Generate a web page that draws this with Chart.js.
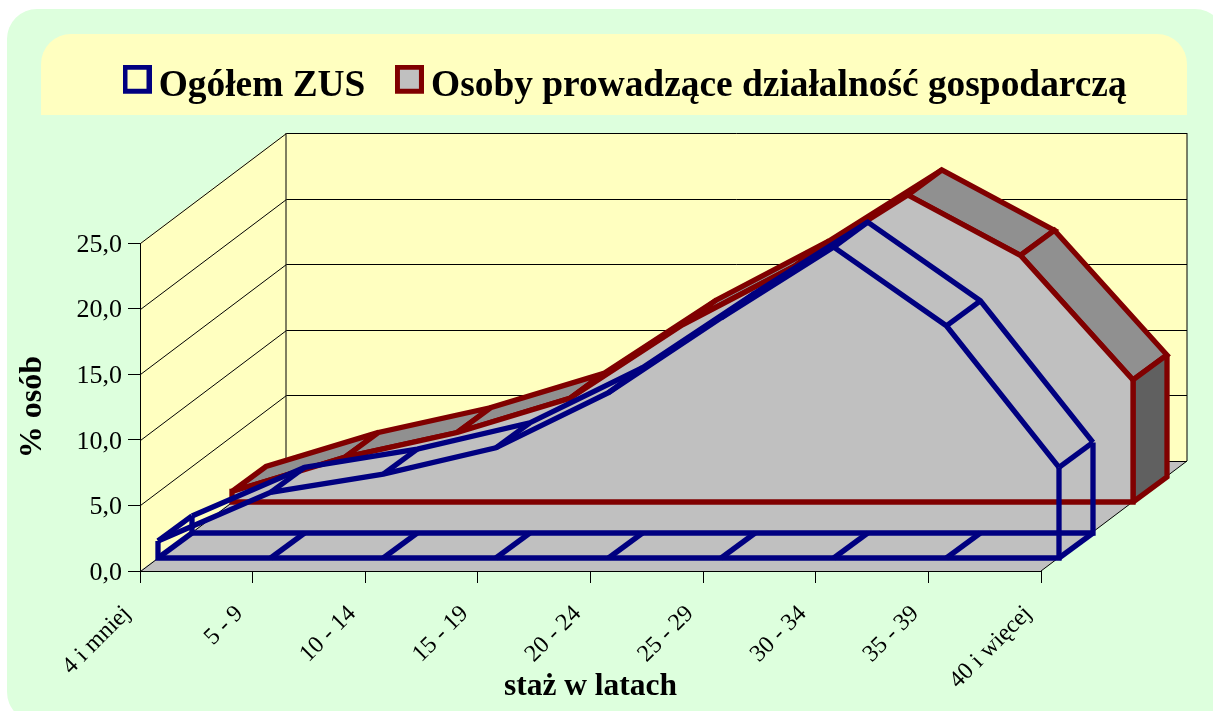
<!DOCTYPE html>
<html lang="pl"><head><meta charset="utf-8"><title>Staż</title>
<style>html,body{margin:0;padding:0;background:#fff}canvas{display:block}</style>
<script src="https://cdn.jsdelivr.net/npm/chart.js@4"></script></head>
<body><canvas id="c" width="1213" height="711"></canvas>
<script>
const categories = ['4 i mniej','5 - 9','10 - 14','15 - 19','20 - 24','25 - 29','30 - 34','35 - 39','40 i więcej'];
const ogolemZus = [1.3,5.0,6.4,8.4,12.6,18.3,23.7,17.7,6.9];
const prowadzacy = [0.8,3.4,5.3,7.9,13.5,18.0,23.4,18.8,9.3];
const seriesNames = ['Ogółem ZUS','Osoby prowadzące działalność gospodarczą'];
const FONT = '"Liberation Serif","Times New Roman",serif';
const NAVY='#000080', MAROON='#800000', GRAY='#c0c0c0', WALL='#ffffc0', PANEL='#ddffdd';
const DEPTH={x:146,y:-110};
const SLICE={x:34,y:-25};
const SLOTS=[{x:18,y:-13},{x:92,y:-69}];
const LW=5.3;

function legendIcon(stroke,fill){
  const k=document.createElement('canvas');k.width=29;k.height=44;
  const g=k.getContext('2d');
  if(fill){g.fillStyle=fill;g.fillRect(2,2,25,25);}
  g.strokeStyle=stroke;g.lineWidth=5;g.strokeRect(2.5,2.5,24,24);
  return k;
}
function rrect(ctx,x,y,w,h,r){ctx.beginPath();ctx.roundRect(x,y,w,h,r);}
function poly(ctx,pts){ctx.beginPath();pts.forEach((p,i)=>i?ctx.lineTo(p.x,p.y):ctx.moveTo(p.x,p.y));}
const plus=(p,d)=>({x:p.x+d.x,y:p.y+d.y});

const scene3d={
  id:'scene3d',
  beforeInit(chart){
    const L=chart.legend,fit=L.fit;
    L.fit=function(){this.maxWidth=chart.width;fit.call(this);this.height=243;};
  },
  afterLayout(chart){
    const L=chart.legend;L.left=93;L.right=1213;L.top=27;
  },
  beforeDraw(chart){
    const c=chart.ctx,{x:X,y:Y}=chart.scales,A=chart.chartArea;
    c.save();
    c.fillStyle=PANEL;rrect(c,7,9,1218,713,30);c.fill();
    c.fillStyle=WALL;rrect(c,41,34,1146,81,[30,30,0,0]);c.fill();
    const bl={x:A.left,y:A.bottom},br={x:A.right,y:A.bottom},tl={x:A.left,y:A.top},tr={x:A.right,y:A.top};
    c.fillStyle=WALL;
    poly(c,[bl,tl,plus(tl,DEPTH),plus(bl,DEPTH)]);c.closePath();c.fill();
    poly(c,[plus(bl,DEPTH),plus(tl,DEPTH),plus(tr,DEPTH),plus(br,DEPTH)]);c.closePath();c.fill();
    c.fillStyle=GRAY;
    poly(c,[bl,br,plus(br,DEPTH),plus(bl,DEPTH)]);c.closePath();c.fill();
    c.strokeStyle='#000';c.lineWidth=1;
    Y.ticks.forEach(t=>{
      const py=Math.round(Y.getPixelForValue(t.value))+.5;
      const a={x:A.left+.5,y:py},b=plus(a,DEPTH),e={x:A.right+DEPTH.x,y:py+DEPTH.y};
      poly(c,[a,b,e]);c.stroke();
    });
    poly(c,[plus(tl,DEPTH),plus(bl,DEPTH)]);c.stroke();
    poly(c,[plus(tr,DEPTH),plus(br,DEPTH),br]);c.stroke();
    c.restore();
  },
  beforeDatasetDraw(chart,{index,meta}){
    const c=chart.ctx,ds=chart.data.datasets[index];
    const base=chart.scales.y.getPixelForValue(0);
    const slot=SLOTS[index];
    const pts=meta.data.map(p=>({x:p.x,y:p.y}));
    const n=pts.length,bottom=pts.map(p=>({x:p.x,y:base}));
    c.save();
    c.translate(slot.x,slot.y);
    c.strokeStyle=ds.borderColor;c.lineWidth=LW;c.lineJoin='miter';c.miterLimit=2;c.lineCap='square';
    const solid=ds.backgroundColor!=='transparent';
    const front=[bottom[0],...pts,bottom[n-1]];
    if(solid){
      for(let i=0;i<n-1;i++){
        c.fillStyle='#909090';
        poly(c,[pts[i],pts[i+1],plus(pts[i+1],SLICE),plus(pts[i],SLICE)]);c.closePath();c.fill();c.stroke();
      }
      c.fillStyle='#606060';
      poly(c,[pts[n-1],plus(pts[n-1],SLICE),plus(bottom[n-1],SLICE),bottom[n-1]]);c.closePath();c.fill();c.stroke();
      c.fillStyle=ds.backgroundColor;
      poly(c,front);c.closePath();c.fill();
    }else{
      c.lineCap='butt';
      poly(c,pts.map(p=>plus(p,SLICE)));c.stroke();
      poly(c,[plus(pts[0],SLICE),plus(bottom[0],SLICE),plus(bottom[n-1],SLICE),plus(pts[n-1],SLICE)]);c.stroke();
      for(let i=0;i<n;i++){
        poly(c,[pts[i],plus(pts[i],SLICE)]);c.stroke();
        poly(c,[bottom[i],plus(bottom[i],SLICE)]);c.stroke();
      }
    }
    poly(c,[pts[0],bottom[0],bottom[n-1],pts[n-1]]);c.stroke();
    c.lineCap='butt';
    // the library strokes the series' own line inside this translation
  },
  afterDatasetDraw(chart){chart.ctx.restore();}
};

new Chart(document.getElementById('c'),{
  type:'line',
  data:{labels:categories,datasets:[
    {label:seriesNames[0],data:ogolemZus,borderColor:NAVY,backgroundColor:'transparent',borderWidth:LW,pointRadius:0,tension:0,fill:false,clip:false,pointStyle:legendIcon(NAVY,null)},
    {label:seriesNames[1],data:prowadzacy,borderColor:MAROON,backgroundColor:GRAY,borderWidth:LW,pointRadius:0,tension:0,fill:false,clip:false,pointStyle:legendIcon(MAROON,GRAY)}
  ]},
  plugins:[scene3d],
  options:{
    responsive:false,animation:false,
    layout:{padding:{left:0,right:172,top:0,bottom:0}},
    plugins:{
      tooltip:{enabled:false},
      legend:{display:true,position:'top',align:'start',labels:{usePointStyle:true,pointStyleWidth:6,padding:41,color:'#000',font:{family:FONT,size:37.4,weight:'bold'}}}
    },
    scales:{
      x:{type:'category',offset:false,
        afterFit(s){s.height=140;},
        grid:{drawOnChartArea:false,drawTicks:true,tickLength:12,color:'#000'},
        border:{color:'#000',width:1},
        ticks:{autoSkip:false,minRotation:45,maxRotation:45,padding:17,labelOffset:-13,color:'#000',font:{family:FONT,size:24}},
        title:{display:true,text:'staż w latach',color:'#000',font:{family:FONT,size:31.5,weight:'bold'},padding:{top:0,bottom:5}}
      },
      y:{type:'linear',min:0,max:25,
        afterFit(s){s.width=140;},
        grid:{drawOnChartArea:false,drawTicks:true,tickLength:12,color:'#000'},
        border:{color:'#000',width:1},
        ticks:{stepSize:5,padding:6,labelOffset:2,color:'#000',font:{family:FONT,size:26},callback:v=>v.toFixed(1).replace('.',',')},
        title:{display:true,text:'% osób',color:'#000',font:{family:FONT,size:32,weight:'bold'},padding:{top:14,bottom:0}}
      }
    }
  }
});
</script></body></html>
